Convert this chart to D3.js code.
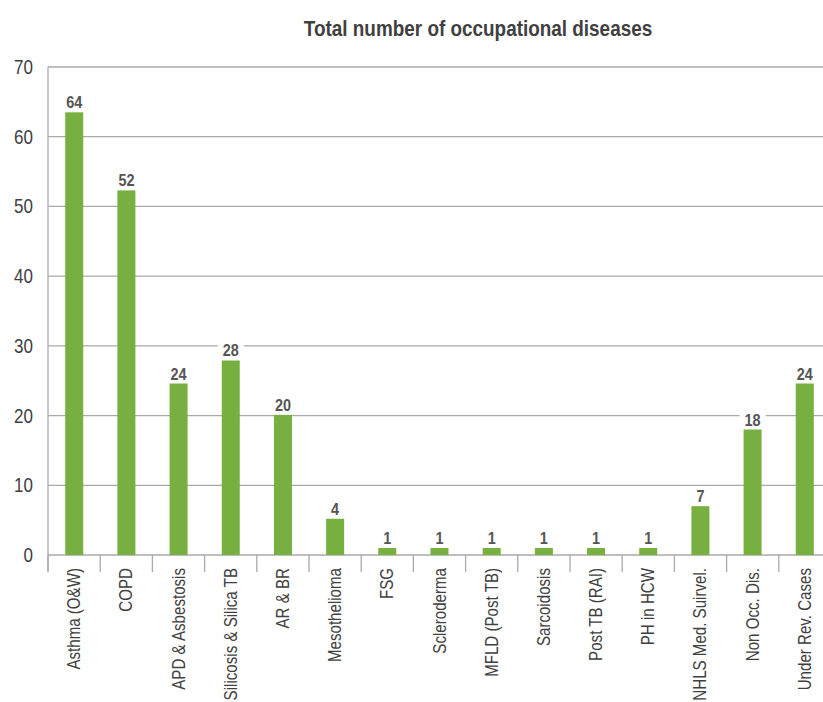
<!DOCTYPE html>
<html>
<head>
<meta charset="utf-8">
<script src="https://cdn.jsdelivr.net/npm/d3@7"></script>
<style>
  body { margin: 0; background: #fff; }
  svg { display: block; font-family: "Liberation Sans", Arial, sans-serif; }
</style>
</head>
<body>
<svg id="chart" width="823" height="702"></svg>
<script>
// categories and values
const categories = ['Asthma (O&W)', 'COPD', 'APD & Asbestosis', 'Silicosis & Silica TB', 'AR & BR',
  'Mesothelioma', 'FSG', 'Scleroderma', 'MFLD (Post TB)', 'Sarcoidosis', 'Post TB (RAI)',
  'PH in HCW', 'NHLS Med. Suirvel.', 'Non Occ. Dis.', 'Under Rev. Cases'];
// bar heights as drawn
const values = [63.5, 52.3, 24.6, 27.9, 20.1, 5.2, 1, 1, 1, 1, 1, 1, 7, 18, 24.6];
// printed labels above the bars
const labels = ['64', '52', '24', '28', '20', '4', '1', '1', '1', '1', '1', '1', '7', '18', '24'];
const yTicks = [0, 10, 20, 30, 40, 50, 60, 70];

const svg = d3.select('#chart');
const mLeft = 48, mTop = 67, mBottom = 555, band = 52.2;

const x = d3.scaleBand()
  .domain(categories)
  .range([mLeft, mLeft + band * categories.length])
  .paddingInner(0.655).paddingOuter(0.33);

const y = d3.scaleLinear().domain([0, 70]).range([mBottom, mTop]);

// title (the original uses a condensed face, so squeeze text horizontally)
svg.append('text')
  .attr('transform', 'translate(478,36) scale(0.86,1)')
  .attr('text-anchor', 'middle')
  .attr('font-size', 22).attr('font-weight', 'bold')
  .attr('fill', '#404040')
  .text('Total number of occupational diseases');

// gridlines
svg.append('g').selectAll('line')
  .data(yTicks)
  .join('line')
  .attr('x1', mLeft).attr('x2', 823)
  .attr('y1', d => y(d)).attr('y2', d => y(d))
  .attr('stroke', '#a9a9a9').attr('stroke-width', 1.3);

// y axis line
svg.append('line')
  .attr('x1', mLeft).attr('x2', mLeft)
  .attr('y1', mTop).attr('y2', mBottom + 17)
  .attr('stroke', '#a9a9a9').attr('stroke-width', 1.3);

// y tick labels
svg.append('g').selectAll('text')
  .data(yTicks)
  .join('text')
  .attr('transform', d => `translate(33,${y(d)}) scale(0.85,1)`)
  .attr('dy', '0.35em')
  .attr('text-anchor', 'end')
  .attr('font-size', 20).attr('fill', '#404040')
  .text(d => d);

// category separators below the axis
const sep = d3.range(categories.length + 1).map(i => mLeft + i * band);
svg.append('g').selectAll('line')
  .data(sep)
  .join('line')
  .attr('x1', d => d).attr('x2', d => d)
  .attr('y1', mBottom).attr('y2', mBottom + 17)
  .attr('stroke', '#a9a9a9').attr('stroke-width', 1.3);

// bars
svg.append('g').selectAll('rect')
  .data(values)
  .join('rect')
  .attr('x', (d, i) => x(categories[i]))
  .attr('width', x.bandwidth())
  .attr('y', d => y(d))
  .attr('height', d => y(0) - y(d))
  .attr('fill', '#77b041');

// value labels with white backing so gridlines break behind them
const lab = svg.append('g').selectAll('g')
  .data(values)
  .join('g')
  .attr('transform', (d, i) => `translate(${x(categories[i]) + x.bandwidth() / 2},${y(d) - 4})`);

lab.append('rect')
  .attr('x', (d, i) => -labels[i].length * 4.5 - 4)
  .attr('y', -16)
  .attr('width', (d, i) => labels[i].length * 9 + 8)
  .attr('height', 17)
  .attr('fill', '#fff');

lab.append('text')
  .attr('transform', 'scale(0.85,1)')
  .attr('text-anchor', 'middle')
  .attr('font-size', 17).attr('font-weight', 'bold')
  .attr('fill', '#555')
  .text((d, i) => labels[i]);

// category labels, rotated
svg.append('g').selectAll('text')
  .data(categories)
  .join('text')
  .attr('transform', d => `translate(${x(d) + x.bandwidth() / 2 + 6},568) rotate(-90) scale(0.84,1)`)
  .attr('text-anchor', 'end')
  .attr('font-size', 18).attr('fill', '#404040')
  .text(d => d);
</script>
</body>
</html>
